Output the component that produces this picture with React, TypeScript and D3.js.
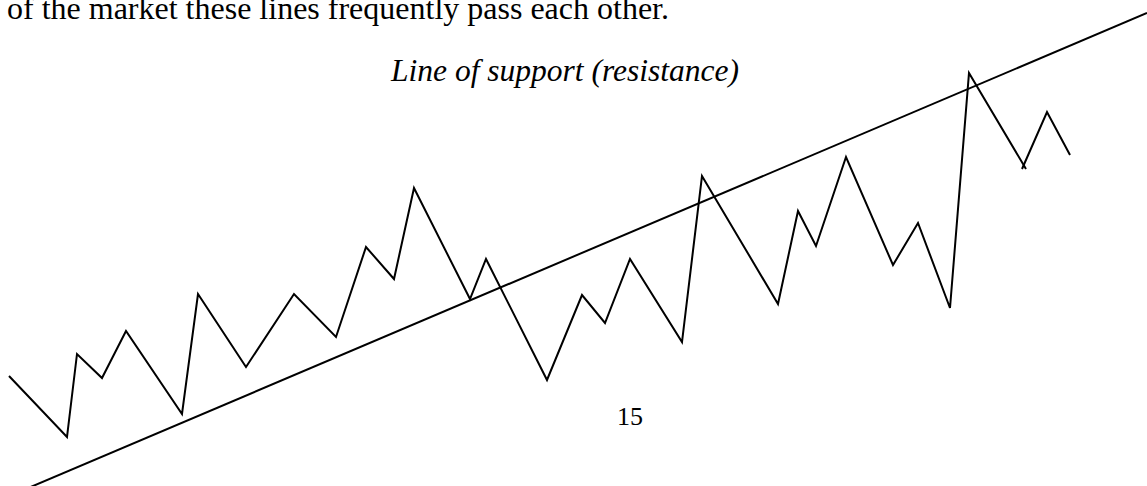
import React from "react";
import * as d3 from "d3";

// Price path: time (t) and price (p) for each turning point
const priceTimes = [0.9, 6.7, 7.7, 10.2, 12.6, 18.2, 19.8, 24.6, 29.4, 33.6, 36.6, 39.4, 41.4, 47.0, 48.6, 54.7, 58.2, 60.5, 63.0, 68.2, 70.2, 77.8, 79.8, 81.6, 84.6, 89.3, 91.8, 95.0, 96.9, 102.6];
const priceValues = [11.0, 4.9, 13.2, 10.8, 15.5, 7.2, 19.2, 11.9, 19.2, 14.9, 23.9, 20.7, 29.8, 18.7, 22.7, 10.6, 19.1, 16.3, 22.7, 14.4, 31.0, 18.2, 27.5, 24.0, 32.9, 22.1, 26.3, 17.8, 41.3, 31.7];

// Last swing drawn as its own stroke
const tailTimes = [102.2, 104.7, 107.0];
const tailValues = [31.7, 37.4, 33.1];

// Support / resistance line endpoints
const trendTimes = [0, 114.7];
const trendValues = [-1.4, 47.3];

const headerText = "of the market these lines frequently pass each other.";
const captionText = "Line of support (resistance)";
const pageNumber = "15";

const W = 1147;
const H = 486;

export default function App() {
  const x = d3.scaleLinear().domain([0, 114.7]).range([0, W]);
  const y = d3.scaleLinear().domain([0, 48.6]).range([H, 0]);

  const line = d3
    .line<[number, number]>()
    .x((d) => x(d[0]))
    .y((d) => y(d[1]));

  const pricePts = priceTimes.map((t, i) => [t, priceValues[i]] as [number, number]);
  const tailPts = tailTimes.map((t, i) => [t, tailValues[i]] as [number, number]);
  const trendPts = trendTimes.map((t, i) => [t, trendValues[i]] as [number, number]);

  const serif = "'Liberation Serif', 'Times New Roman', serif";

  return (
    <svg
      width={W}
      height={H}
      viewBox={`0 0 ${W} ${H}`}
      style={{ position: "absolute", left: 0, top: 0, display: "block", background: "#fff" }}
    >
      <rect x={0} y={0} width={W} height={H} fill="#fff" />
      <text x={7} y={19} fontFamily={serif} fontSize={32} fill="#000">
        {headerText}
      </text>
      <text x={739} y={81} fontFamily={serif} fontStyle="italic" fontSize={31.5} fill="#000" textAnchor="end">
        {captionText}
      </text>
      <text x={617} y={425} fontFamily={serif} fontSize={26} fill="#000">
        {pageNumber}
      </text>
      <path d={line(trendPts) || ""} fill="none" stroke="#000" strokeWidth={2} />
      <path d={line(pricePts) || ""} fill="none" stroke="#000" strokeWidth={2} strokeLinejoin="miter" />
      <path d={line(tailPts) || ""} fill="none" stroke="#000" strokeWidth={2} strokeLinejoin="miter" />
    </svg>
  );
}
